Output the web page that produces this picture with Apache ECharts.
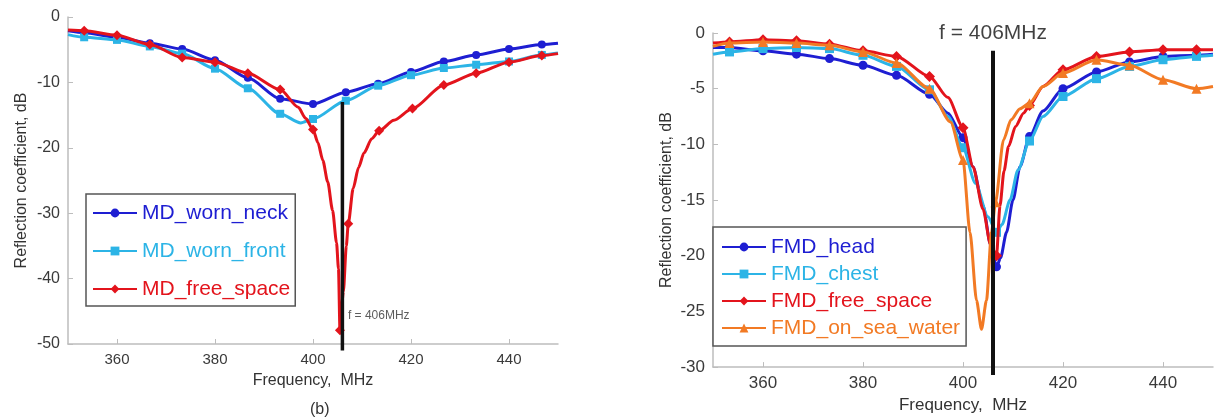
<!DOCTYPE html>
<html>
<head>
<meta charset="utf-8">
<script src="https://cdn.jsdelivr.net/npm/echarts@6/dist/echarts.min.js"></script>
<style>
html,body{margin:0;padding:0;background:#fff;}
#chart{width:1216px;height:419px;}
</style>
</head>
<body>
<div id="chart"></div>
<script>
// ---------- data (frequency MHz, reflection coefficient dB, marker flag) ----------
const freqTicks = [360, 380, 400, 420, 440];
const markerFreq = 406;

// Left panel (b)
const mdWornNeck = [
  [350,-2.1,0],[353.3,-2.4,1],[360,-3.1,1],[366.7,-4.0,1],[373.3,-4.9,1],[380,-6.6,1],
  [386.7,-9.3,1],[393.3,-12.5,1],[400,-13.3,1],[406.7,-11.5,1],[413.3,-10.2,1],[420,-8.4,1],
  [426.7,-6.8,1],[433.3,-5.8,1],[440,-4.9,1],[446.7,-4.2,1],[450,-4.0,0]
];
const mdWornFront = [
  [350,-2.7,0],[353.3,-3.1,1],[360,-3.5,1],[366.7,-4.5,1],[373.3,-5.6,1],[380,-7.9,1],
  [386.7,-10.9,1],[393.3,-14.8,1],[397.5,-16.2,0],[400,-15.6,1],[406.7,-12.8,1],[413.3,-10.5,1],
  [420,-8.9,1],[426.7,-7.8,1],[433.3,-7.3,1],[440,-6.8,1],[446.7,-5.8,1],[450,-5.5,0]
];
const mdFreeSpace = [
  [350,-2.0,0],[353.3,-2.1,1],[360,-2.8,1],[366.7,-4.2,1],[373.3,-6.2,1],[380,-6.9,1],
  [386.7,-8.6,1],[393.3,-11.1,1],[397,-13.8,0],[398.5,-15.5,0],[400,-17.2,1],[401,-19.2,0],
  [402,-21.9,0],[403,-25.2,0],[404,-29.6,0],[404.8,-34.5,0],[405.2,-38.5,0],[405.5,-47.9,1],
  [406.2,-42.0,0],[406.8,-35.0,0],[407.2,-31.6,1],[408.2,-26.2,0],[409.3,-23.0,0],[410.4,-20.8,0],
  [412,-18.6,0],[413.5,-17.4,1],[416.5,-15.8,0],[420.3,-14.0,1],[426.7,-10.4,1],[433.3,-8.6,1],
  [440,-6.9,1],[446.7,-5.9,1],[450,-5.6,0]
];
const leftNames = ['MD_worn_neck', 'MD_worn_front', 'MD_free_space'];
const leftMarkerLine = [[markerFreq,-13.0],[markerFreq,-51.0]];
const leftMarkerText = [[markerFreq,-45.6]];

// Right panel
const fmdHead = [
  [350,-1.3,0],[353.3,-1.3,1],[360,-1.6,1],[366.7,-1.9,1],[373.3,-2.3,1],[380,-2.9,1],
  [386.7,-3.8,1],[393.3,-5.5,1],[397,-7.2,0],[400,-9.4,1],[402,-12.0,0],[404,-15.5,0],
  [405.5,-19.0,0],[406.7,-21.0,1],[407.5,-20.2,0],[408.7,-17.9,0],[410,-15.0,0],[411.4,-12.0,0],
  [413.3,-9.3,1],[416,-7.0,0],[420,-5.0,1],[426.7,-3.5,1],[433.3,-2.6,1],[440,-2.1,1],
  [446.7,-2.0,1],[450,-1.9,0]
];
const fmdChest = [
  [350,-1.9,0],[353.3,-1.7,1],[360,-1.4,1],[366.7,-1.3,1],[373.3,-1.4,1],[380,-2.0,1],
  [386.7,-3.0,1],[393.3,-5.1,1],[397,-7.5,0],[400,-10.3,1],[402.5,-13.5,0],[405,-16.5,0],
  [406.7,-17.9,1],[407.8,-17.2,0],[409.4,-15.0,0],[411,-12.3,0],[413.3,-9.7,1],[416,-7.5,0],
  [420,-5.7,1],[426.7,-4.1,1],[433.3,-3.0,1],[440,-2.4,1],[446.7,-2.1,1],[450,-2.0,0]
];
const fmdFreeSpace = [
  [350,-0.9,0],[353.3,-0.8,1],[360,-0.6,1],[366.7,-0.7,1],[373.3,-1.0,1],[380,-1.6,1],
  [386.7,-2.1,1],[393.3,-3.9,1],[397,-5.8,0],[400,-8.5,1],[402,-12.0,0],[404,-15.8,0],
  [405.5,-19.0,0],[406.7,-20.0,1],[407.4,-15.5,0],[408.2,-12.4,0],[409.1,-10.2,0],[410.5,-8.4,0],
  [412.1,-7.2,0],[413.3,-6.5,1],[416,-4.8,0],[420,-3.3,1],[426.7,-2.1,1],[433.3,-1.7,1],
  [440,-1.5,1],[446.7,-1.5,1],[450,-1.5,0]
];
const fmdSeaWater = [
  [350,-1.2,0],[353.3,-0.9,1],[360,-0.8,1],[366.7,-0.9,1],[373.3,-1.1,1],[380,-1.7,1],
  [386.7,-2.7,1],[393.3,-5.0,1],[397.5,-8.0,0],[400,-11.4,1],[401.4,-17.9,0],[402.7,-24.0,0],
  [403.7,-26.6,0],[404.7,-24.0,0],[405.7,-17.9,0],[406.5,-15.2,1],[408.1,-9.6,0],[409.6,-7.8,0],
  [411.4,-6.8,0],[413.3,-6.3,1],[416,-4.8,0],[420,-3.6,1],[426.7,-2.4,1],[433.3,-2.9,1],
  [440,-4.2,1],[446.7,-5.0,1],[450,-4.8,0]
];
const rightNames = ['FMD_head', 'FMD_chest', 'FMD_free_space', 'FMD_on_sea_water'];
const rightMarkerLine = [[markerFreq,-1.6],[markerFreq,-30.7]];
const rightMarkerText = [[markerFreq,0]];

// ---------- styling ----------
const C_BLUE = '#1e1ed2', C_CYAN = '#2cb4e6', C_RED = '#e3141c', C_ORANGE = '#f27a24';
const FONT = 'Liberation Sans, Arial, Helvetica, sans-serif';

function pts(arr, sym) {
  return arr.map(p => ({ value: [p[0], p[1]], symbol: p[2] ? sym : 'none' }));
}
function curve(name, arr, sym, size, color, idx, width, z) {
  return {
    type: 'line', name: name, xAxisIndex: idx, yAxisIndex: idx,
    data: pts(arr, sym), symbol: sym, symbolSize: size, showSymbol: true,
    smooth: 0.25, smoothMonotone: 'x',
    lineStyle: { color: color, width: width }, itemStyle: { color: color },
    z: z, silent: true
  };
}
function xAx(idx, fs) {
  return {
    type: 'value', gridIndex: idx, min: 350, max: 450, position: 'bottom',
    name: 'Frequency,  MHz', nameLocation: 'middle', nameGap: idx ? 27 : 29,
    nameTextStyle: { fontSize: idx ? 17 : 16, color: '#333', fontFamily: FONT },
    axisLine: { show: true, onZero: false, lineStyle: { color: '#bdbdbd', width: 1.5 } },
    axisTick: { show: true, inside: true, length: 5, customValues: freqTicks, lineStyle: { color: '#bdbdbd' } },
    axisLabel: { customValues: freqTicks, fontSize: fs, color: '#3a3a3a', fontFamily: FONT, margin: 8 },
    splitLine: { show: false }
  };
}
function yAx(idx, min, interval, fs, gap) {
  return {
    type: 'value', gridIndex: idx, min: min, max: 0, interval: interval, position: 'left',
    name: 'Reflection coefficient, dB', nameLocation: 'middle', nameGap: gap,
    nameTextStyle: { fontSize: 16, color: '#333', fontFamily: FONT },
    axisLine: { show: true, onZero: false, lineStyle: { color: '#bdbdbd', width: 1.5 } },
    axisTick: { show: true, inside: true, length: 5, lineStyle: { color: '#bdbdbd' } },
    axisLabel: { fontSize: fs, color: '#3a3a3a', fontFamily: FONT, margin: 8 },
    splitLine: { show: false }
  };
}

const chart = echarts.init(document.getElementById('chart'), null, { renderer: 'canvas' });
chart.setOption({
  animation: false,
  backgroundColor: '#ffffff',
  title: {
    text: '(b)', left: 305, top: 397,
    textStyle: { fontSize: 16, fontWeight: 'normal', color: '#333', fontFamily: FONT }
  },
  grid: [
    { left: 68, top: 17, width: 490, height: 327 },
    { left: 713, top: 33, width: 500, height: 336 }
  ],
  xAxis: [xAx(0, 15), xAx(1, 17)],
  yAxis: [yAx(0, -50, 10, 16, 38), yAx(1, -30, 5, 17, 38)],
  legend: [
    {
      orient: 'vertical', left: 86, top: 194,
      data: [
        { name: leftNames[0], textStyle: { color: C_BLUE } },
        { name: leftNames[1], textStyle: { color: C_CYAN } },
        { name: leftNames[2], textStyle: { color: C_RED } }
      ],
      itemWidth: 44, itemHeight: 11, itemGap: 14, padding: [7, 5, 5, 6],
      borderColor: '#555', borderWidth: 1.5, backgroundColor: '#fff',
      textStyle: { fontSize: 21, lineHeight: 24, fontFamily: FONT }
    },
    {
      orient: 'vertical', left: 713, top: 227,
      data: [
        { name: rightNames[0], textStyle: { color: C_BLUE } },
        { name: rightNames[1], textStyle: { color: C_CYAN } },
        { name: rightNames[2], textStyle: { color: C_RED } },
        { name: rightNames[3], textStyle: { color: C_ORANGE } }
      ],
      itemWidth: 44, itemHeight: 11, itemGap: 3, padding: [8, 6, 6, 8],
      borderColor: '#555', borderWidth: 1.5, backgroundColor: '#fff',
      textStyle: { fontSize: 21, lineHeight: 24, fontFamily: FONT }
    }
  ],
  series: [
    curve(leftNames[0], mdWornNeck, 'circle', 8, C_BLUE, 0, 3, 3),
    curve(leftNames[1], mdWornFront, 'rect', 8, C_CYAN, 0, 3, 4),
    curve(leftNames[2], mdFreeSpace, 'diamond', 10, C_RED, 0, 3, 5),
    {
      type: 'line', name: 'f406a', xAxisIndex: 0, yAxisIndex: 0, data: leftMarkerLine,
      symbol: 'none', clip: false, lineStyle: { color: '#111', width: 3.5 }, z: 8, silent: true
    },
    {
      type: 'scatter', name: 'f406aText', xAxisIndex: 0, yAxisIndex: 0, data: leftMarkerText,
      symbolSize: 1, itemStyle: { color: 'rgba(0,0,0,0)' }, clip: false, silent: true, z: 9,
      label: { show: true, position: 'right', distance: 5, formatter: 'f = 406MHz', fontSize: 12, color: '#333', fontFamily: FONT }
    },
    curve(rightNames[0], fmdHead, 'circle', 9, C_BLUE, 1, 3, 3),
    curve(rightNames[1], fmdChest, 'rect', 9, C_CYAN, 1, 3, 4),
    curve(rightNames[2], fmdFreeSpace, 'diamond', 11, C_RED, 1, 3, 5),
    curve(rightNames[3], fmdSeaWater, 'triangle', 10, C_ORANGE, 1, 3, 6),
    {
      type: 'line', name: 'f406b', xAxisIndex: 1, yAxisIndex: 1, data: rightMarkerLine,
      symbol: 'none', clip: false, lineStyle: { color: '#111', width: 4 }, z: 8, silent: true
    },
    {
      type: 'scatter', name: 'f406bText', xAxisIndex: 1, yAxisIndex: 1, data: rightMarkerText,
      symbolSize: 1, itemStyle: { color: 'rgba(0,0,0,0)' }, clip: false, silent: true, z: 9,
      label: { show: true, position: 'inside', formatter: 'f = 406MHz', fontSize: 21, color: '#111', fontFamily: FONT }
    }
  ]
});
</script>
</body>
</html>
